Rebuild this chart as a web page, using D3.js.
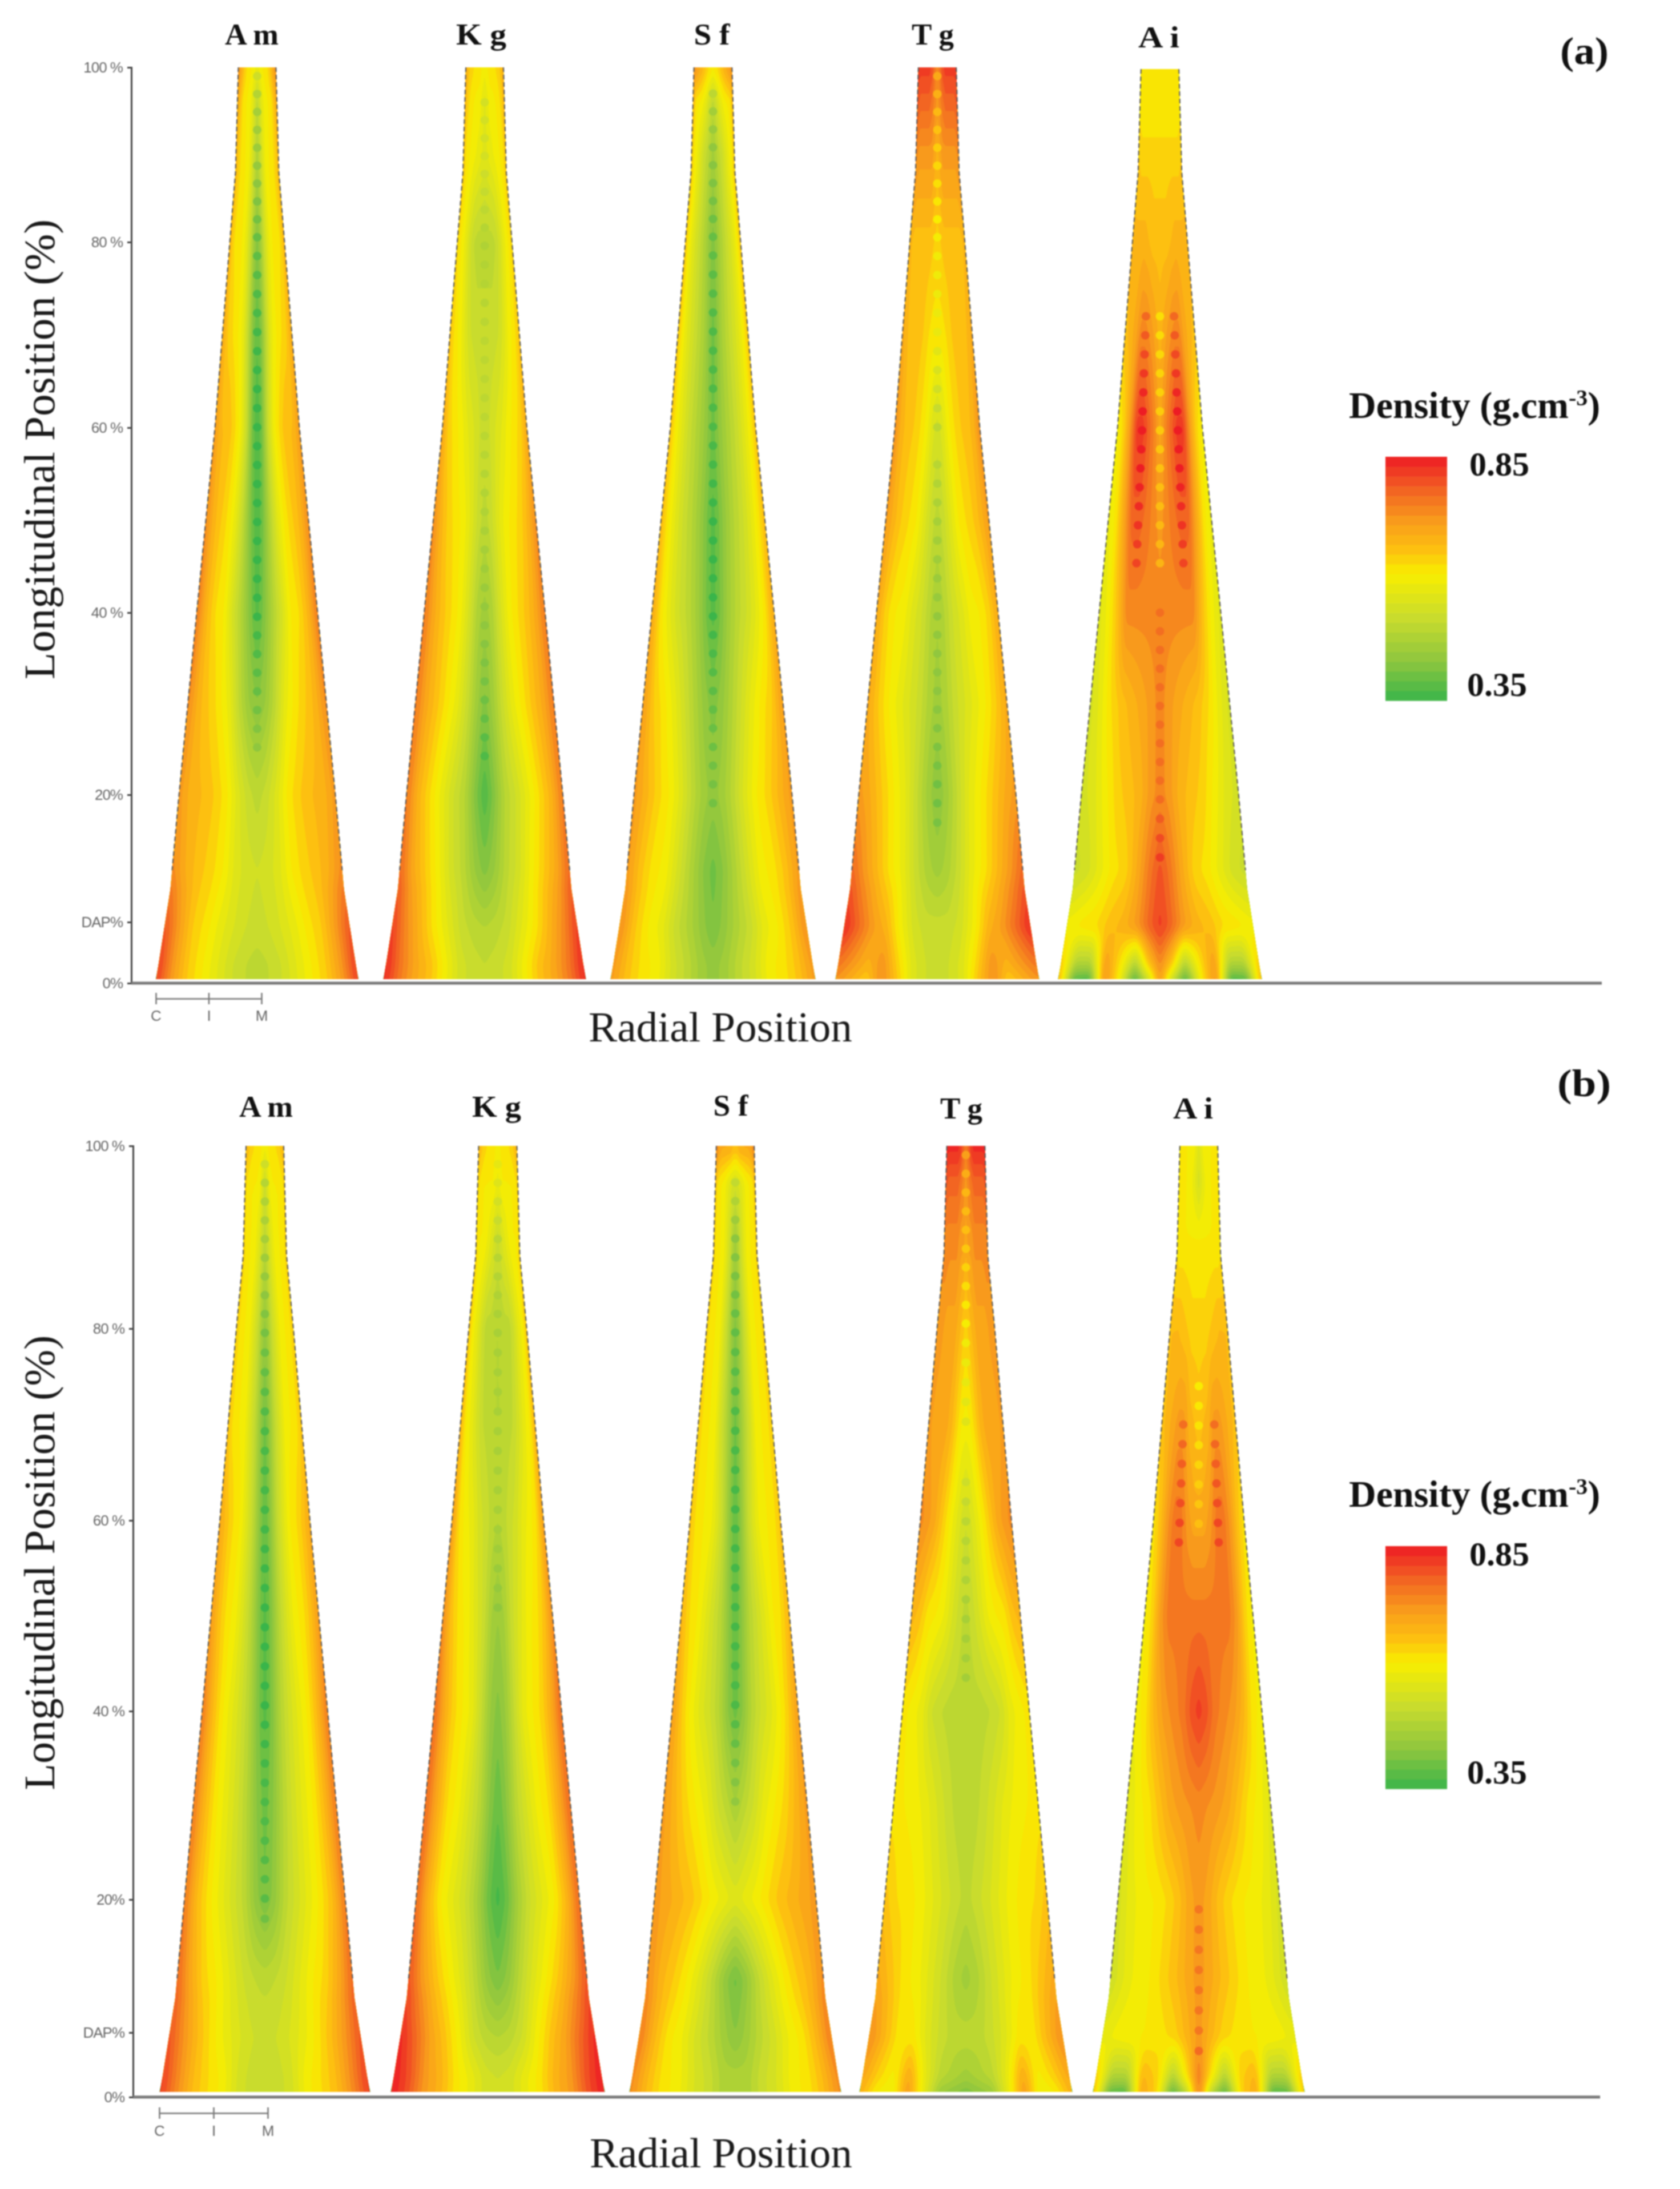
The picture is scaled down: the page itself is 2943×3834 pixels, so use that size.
<!DOCTYPE html>
<html><head><meta charset="utf-8">
<script src="https://cdn.jsdelivr.net/npm/d3@7"></script>
<style>
html,body{margin:0;padding:0;background:#fff}
svg{display:block;filter:blur(0.9px)}
</style></head><body><svg id="c" width="2943" height="3834"></svg>
<script>
// ---------- DATA ----------
const species = ["A m","K g","S f","T g","A i"];
const tickValues = [0,6.5,20,40,60,80,100];
const tickLabels = ["0%","DAP%","20%","40 %","60 %","80 %","100 %"];
const radialLabels = ["C","I","M"];
const densityRange = [0.35,0.85];
// longitudinal rows (%), radial columns (0 = pith line, 1 = bark)
const rowPct = [100,96,90,80,70,60,50,40,30,20,12,6,2,0];
const colU = [0,.12,.25,.4,.55,.7,.85,1];

const Am_a=[[.58,.60,.61,.62,.63,.66,.70,.74],[.50,.54,.58,.60,.61,.62,.66,.70],[.48,.52,.56,.60,.61,.62,.64,.68],[.42,.46,.52,.58,.61,.62,.63,.68],[.39,.42,.50,.58,.61,.63,.65,.70],[.37,.41,.52,.60,.64,.67,.67,.72],[.37,.41,.49,.57,.62,.65,.68,.74],[.38,.42,.48,.54,.61,.63,.68,.76],[.43,.45,.50,.58,.62,.65,.68,.74],[.50,.52,.56,.62,.65,.67,.68,.72],[.53,.54,.56,.61,.64,.66,.69,.74],[.52,.53,.55,.58,.62,.65,.72,.80],[.50,.51,.53,.57,.61,.65,.72,.82],[.50,.51,.53,.57,.61,.65,.72,.82]];
const Kg_a=[[.60,.61,.62,.63,.63,.64,.66,.70],[.56,.58,.60,.60,.61,.62,.64,.68],[.56,.57,.58,.59,.60,.61,.62,.66],[.50,.50,.50,.51,.54,.58,.61,.64],[.52,.52,.52,.53,.56,.60,.62,.66],[.52,.53,.55,.57,.60,.62,.64,.70],[.50,.52,.56,.60,.62,.64,.68,.74],[.46,.48,.54,.60,.63,.66,.70,.76],[.42,.46,.52,.58,.62,.66,.70,.76],[.37,.42,.49,.53,.58,.63,.68,.76],[.42,.45,.50,.54,.60,.65,.70,.78],[.49,.50,.52,.57,.62,.68,.74,.82],[.51,.52,.54,.60,.66,.70,.76,.84],[.51,.52,.54,.60,.66,.70,.76,.84]];
const Sf_a=[[.62,.63,.64,.66,.68,.70,.72,.74],[.50,.52,.55,.58,.60,.61,.62,.68],[.46,.48,.50,.52,.55,.58,.61,.65],[.42,.44,.47,.50,.53,.56,.60,.66],[.40,.43,.47,.50,.53,.56,.60,.66],[.40,.43,.46,.49,.52,.56,.60,.66],[.38,.41,.45,.49,.52,.56,.61,.67],[.38,.41,.46,.50,.53,.57,.62,.70],[.42,.44,.48,.53,.58,.62,.65,.72],[.44,.46,.50,.56,.61,.64,.68,.72],[.40,.43,.48,.54,.60,.62,.66,.72],[.41,.44,.48,.52,.58,.61,.66,.74],[.44,.46,.50,.54,.60,.62,.66,.72],[.44,.46,.50,.54,.60,.62,.66,.72]];
const Tg_a=[[.74,.76,.80,.82,.82,.82,.82,.82],[.72,.74,.76,.78,.78,.78,.78,.80],[.68,.70,.72,.72,.72,.72,.72,.74],[.64,.65,.66,.66,.66,.66,.66,.68],[.62,.62,.63,.65,.66,.66,.67,.70],[.54,.56,.60,.63,.65,.66,.68,.74],[.50,.52,.56,.61,.63,.65,.68,.72],[.47,.49,.53,.56,.60,.61,.64,.70],[.46,.48,.52,.55,.58,.61,.65,.70],[.43,.46,.51,.57,.61,.65,.69,.72],[.46,.48,.52,.58,.62,.67,.72,.78],[.52,.52,.54,.60,.68,.72,.78,.84],[.52,.53,.56,.64,.73,.68,.72,.76],[.52,.53,.56,.66,.74,.64,.68,.72]];
const Ai_a=[[.61,.61,.61,.61,.61,.61,.61,.62],[.61,.61,.61,.61,.61,.61,.61,.62],[.64,.64,.64,.64,.64,.64,.64,.65],[.66,.66,.66,.67,.68,.68,.68,.68],[.68,.70,.72,.74,.74,.70,.68,.66],[.70,.74,.78,.82,.82,.72,.64,.60],[.72,.74,.76,.78,.78,.70,.62,.58],[.74,.74,.74,.74,.74,.66,.60,.56],[.74,.72,.70,.68,.66,.63,.58,.54],[.74,.72,.68,.66,.64,.60,.56,.54],[.80,.76,.70,.64,.62,.58,.54,.52],[.82,.78,.72,.68,.66,.63,.62,.60],[.74,.65,.48,.62,.72,.48,.48,.66],[.72,.50,.34,.60,.74,.34,.36,.70]];

const Am_b=[[.60,.61,.62,.62,.63,.64,.66,.68],[.52,.56,.60,.61,.61,.61,.62,.64],[.50,.53,.56,.59,.61,.61,.62,.64],[.44,.47,.52,.56,.60,.61,.62,.65],[.40,.44,.50,.55,.60,.61,.62,.66],[.39,.43,.50,.56,.61,.63,.66,.70],[.38,.42,.49,.55,.60,.62,.66,.72],[.38,.42,.49,.54,.58,.62,.68,.76],[.40,.43,.49,.54,.58,.62,.68,.76],[.41,.44,.50,.54,.58,.62,.67,.76],[.50,.51,.53,.57,.61,.64,.70,.78],[.53,.53,.55,.58,.62,.67,.73,.80],[.52,.52,.54,.60,.63,.67,.74,.82],[.52,.52,.54,.60,.63,.67,.74,.82]];
const Kg_b=[[.61,.61,.62,.62,.63,.64,.66,.68],[.58,.60,.61,.61,.61,.61,.62,.64],[.52,.54,.56,.58,.60,.61,.61,.64],[.49,.49,.50,.50,.53,.57,.60,.66],[.49,.49,.50,.51,.54,.58,.61,.68],[.49,.50,.52,.54,.58,.60,.63,.72],[.45,.47,.52,.56,.60,.62,.66,.74],[.42,.45,.51,.58,.61,.64,.70,.78],[.39,.43,.50,.55,.60,.63,.70,.78],[.36,.40,.47,.53,.57,.61,.68,.78],[.41,.44,.50,.56,.61,.66,.72,.80],[.49,.50,.53,.60,.66,.71,.78,.84],[.53,.54,.58,.62,.68,.72,.80,.85],[.53,.54,.58,.62,.68,.72,.80,.85]];
const Sf_b=[[.68,.68,.70,.70,.70,.70,.72,.76],[.54,.55,.56,.58,.60,.61,.62,.66],[.46,.49,.53,.57,.60,.61,.62,.64],[.42,.45,.50,.55,.60,.61,.62,.64],[.40,.44,.49,.54,.60,.61,.62,.65],[.39,.43,.50,.56,.60,.61,.62,.66],[.39,.43,.49,.53,.57,.61,.63,.68],[.40,.43,.49,.53,.56,.60,.65,.72],[.47,.50,.53,.58,.61,.64,.68,.72],[.56,.58,.60,.63,.66,.68,.70,.72],[.40,.44,.50,.56,.61,.65,.68,.74],[.43,.46,.50,.54,.59,.62,.68,.76],[.48,.48,.52,.55,.60,.62,.67,.74],[.48,.48,.52,.55,.60,.62,.67,.74]];
const Tg_b=[[.76,.78,.82,.84,.84,.84,.84,.84],[.72,.74,.76,.78,.78,.78,.78,.80],[.70,.72,.72,.74,.74,.74,.74,.74],[.64,.66,.68,.70,.70,.70,.72,.72],[.60,.61,.64,.68,.70,.70,.70,.72],[.53,.55,.58,.62,.66,.70,.72,.74],[.50,.52,.55,.59,.61,.62,.66,.68],[.49,.50,.50,.51,.53,.58,.60,.62],[.50,.50,.52,.55,.58,.60,.61,.62],[.50,.52,.54,.57,.60,.62,.63,.66],[.46,.48,.52,.56,.60,.62,.66,.70],[.50,.50,.52,.56,.62,.62,.68,.74],[.46,.48,.50,.58,.70,.60,.64,.70],[.40,.42,.44,.58,.72,.58,.60,.68]];
const Ai_b=[[.56,.58,.60,.61,.61,.61,.61,.61],[.54,.56,.58,.60,.61,.61,.61,.61],[.61,.61,.61,.61,.61,.61,.61,.62],[.64,.64,.64,.65,.66,.67,.67,.67],[.66,.67,.68,.72,.72,.70,.68,.66],[.70,.70,.72,.76,.76,.72,.66,.62],[.76,.76,.76,.76,.76,.72,.64,.60],[.82,.80,.76,.74,.72,.68,.62,.60],[.74,.73,.72,.70,.66,.62,.60,.56],[.72,.70,.66,.63,.61,.60,.58,.54],[.72,.70,.67,.64,.61,.60,.57,.53],[.72,.68,.64,.62,.61,.61,.60,.58],[.76,.62,.48,.64,.68,.48,.48,.66],[.76,.46,.34,.64,.70,.34,.36,.68]];

// sample lines visible as beads: [u, from %, to %, density offset]
const beads_a=[[[0,99,24,-.03]],[[0,96,24,-.02]],[[0,97,18,-.03]],[[0,99,58,-.04],[0,56,16,-.03]],[[0,72,45,-.05],[.42,72,44,.05],[0,40,12,.03]]];
const beads_b=[[[0,98,18,-.03]],[[0,98,50,-.02]],[[0,96,30,-.03]],[[0,99,70,-.04],[0,64,42,-.03]],[[0,74,58,-.04],[.42,70,56,.05],[0,19,4,.04]]];

// stem half-width profile, relative to the % height
const shapePct=[100,88,80,60,40,20,10,0];
const shape_a=[33,38,48,74,106,137,152,178];
const shape_b=[33,38,50,79,110,141,157,185];

// ---------- LAYOUT ----------
const panels=[
 {data:[Am_a,Kg_a,Sf_a,Tg_a,Ai_a],beads:beads_a,shape:shape_a,refHalf:178,
  centers:[450.5,849,1249,1642,2032],halves:[178,178,180,179,179],topY:[118,118,118,118,121],
  tickY:[1722,1615,1392,1073,749,424,118],treeBase:1715,axisX:230,axisEnd:2806,
  lab:[[441,78],[843,78],[1247,78],[1634,78],[2030,83]],labW:[94,88,63,74,72],
  scale:[273,365,458],scaleY:1749,scaleLab:21,
  xTitleY:1824,xTitleX:[1031,1493],yTitleC:787,yTitleLen:806,
  tag:"(a)",tagX:[2733,2818],tagY:112,legTitleY:732,bar:[800,1227],legY:[1219,833]},
 {data:[Am_b,Kg_b,Sf_b,Tg_b,Ai_b],beads:beads_b,shape:shape_b,refHalf:185,
  centers:[464,872,1288,1692,2100],halves:[185,188,186,187,186],topY:[2007,2007,2007,2007,2007],
  tickY:[3673,3560,3327,2997,2663,2327,2007],treeBase:3664,axisX:233,axisEnd:2803,
  lab:[[466,1956],[870,1956],[1280,1954],[1684,1959],[2090,1959]],labW:[94,86,61,74,70],
  scale:[279,374,469],scaleY:3701,scaleLab:22,
  xTitleY:3796,xTitleX:[1033,1493],yTitleC:2737,yTitleLen:797,
  tag:"(b)",tagX:[2728,2822],tagY:1920,legTitleY:2639,bar:[2708,3133],legY:[3124,2742]}
];

const svg=d3.select("#c");
svg.append("rect").attr("width",2943).attr("height",3834).attr("fill","#fff");
const SERIF="'Liberation Serif','Times New Roman',serif", SANS="'Liberation Sans',Arial,sans-serif";

const color=d3.scaleLinear()
  .domain([.35,.43,.52,.61,.66,.72,.78,.85])
  .range(["#39b54a","#8dc63f","#c9dc2d","#f8ee00","#fdc010","#f89a1c","#f26522","#ed1c24"])
  .clamp(true);
const thresholds=d3.range(densityRange[0],densityRange[1]-1e-6,0.02);

function fieldAt(m,u,p){
  const au=Math.min(1,Math.abs(u));
  let j=d3.bisectRight(colU,au)-1; j=Math.max(0,Math.min(colU.length-2,j));
  const tu=(au-colU[j])/(colU[j+1]-colU[j]);
  let i=0; while(i<rowPct.length-2&&p<rowPct[i+1])i++;
  const tp=(rowPct[i]-p)/(rowPct[i]-rowPct[i+1]);
  const a=d3.interpolateNumber(m[i][j],m[i][j+1])(tu),b=d3.interpolateNumber(m[i+1][j],m[i+1][j+1])(tu);
  return a+(b-a)*tp;
}

const GW=201,GH=501;
panels.forEach(P=>{
  const g=svg.append("g");
  const y=d3.scaleLinear().domain(tickValues).range(P.tickY);
  const cx=d3.scaleOrdinal(species,P.centers);

  species.forEach((sp,k)=>{
    const m=P.data[k];
    const hw=d3.scaleLinear().domain(shapePct).range(P.shape.map(v=>v*P.halves[k]/P.refHalf));
    const yy=p=>Math.min(P.treeBase,Math.max(P.topY[k],y(p)));
    const c=cx(sp);
    const values=new Float64Array(GW*GH);
    for(let j=0;j<GH;j++)for(let i=0;i<GW;i++){
      const u=((i+.5)/GW)*2-1,p=100*(1-(j+.5)/GH);
      values[j*GW+i]=fieldAt(m,u,p);
    }
    d3.blur2({data:values,width:GW,height:GH},1.6,2);
    const contours=d3.contours().size([GW,GH]).thresholds(thresholds)(values);
    const path=d3.geoPath(d3.geoTransform({point(px,py){
      const u=px/GW*2-1,p=100*(1-py/GH);
      this.stream.point(c+u*hw(p),yy(p));
    }}));
    const pcts=d3.range(100,-0.001,-2).concat([88,10]).sort((a,b)=>b-a);
    const outline=[...pcts.map(p=>[c-hw(p),yy(p)]),...pcts.slice().reverse().map(p=>[c+hw(p),yy(p)])];
    const line=d3.line();
    const id="clip"+P.tag[1]+k;
    g.append("clipPath").attr("id",id).append("path").attr("d",line(outline)+"Z");
    const t=g.append("g").attr("clip-path",`url(#${id})`);
    t.append("path").attr("d",line(outline)+"Z").attr("fill",color(.35));
    t.selectAll("path.band").data(contours).join("path").attr("class","band")
      .attr("d",path).attr("fill",d=>color(d.value+.01));
    // bead rows
    P.beads[k].forEach(([u,from,to,dv])=>{
      const ps=d3.range(from,to,-2.05);
      (u?[-u,u]:[0]).forEach(us=>{
        t.selectAll(null).data(ps).join("circle")
          .attr("cx",p=>c+us*hw(p)).attr("cy",p=>yy(p)).attr("r",7.5)
          .attr("fill",p=>color(fieldAt(m,us,p)+dv));
      });
    });
    // dashed stem edge
    const edge=d3.range(100,11,-2);
    [-1,1].forEach(s=>g.append("path").attr("d",line(edge.map(p=>[c+s*hw(p),yy(p)])))
      .attr("fill","none").attr("stroke","#555").attr("stroke-width",2).attr("stroke-dasharray","8 5"));
    // species label
    g.append("text").attr("x",P.lab[k][0]).attr("y",P.lab[k][1]).attr("text-anchor","middle")
      .attr("font-family",SERIF).attr("font-weight","bold").attr("font-size",52)
      .attr("textLength",P.labW[k]).attr("lengthAdjust","spacingAndGlyphs").attr("fill","#111").text(sp);
  });

  // longitudinal axis
  const ax=g.append("g").attr("transform",`translate(${P.axisX},0)`)
    .call(d3.axisLeft(y).tickValues(tickValues).tickSize(7).tickPadding(8).tickFormat((d,i)=>tickLabels[i]));
  ax.select(".domain").attr("stroke","#444").attr("stroke-width",3);
  ax.selectAll(".tick line").attr("stroke","#444").attr("stroke-width",3);
  ax.selectAll("text").attr("font-family",SANS).attr("font-size",26).attr("fill","#666").attr("letter-spacing",-1);
  // radial axis line
  const xLine=d3.scaleLinear().domain([0,1]).range([P.axisX,P.axisEnd]);
  g.append("line").attr("x1",xLine(0)).attr("x2",xLine(1)).attr("y1",y(0)).attr("y2",y(0))
    .attr("stroke","#777").attr("stroke-width",5);
  // C I M scale
  const rs=d3.scalePoint().domain(radialLabels).range([P.scale[0],P.scale[2]]);
  const ra=g.append("g").attr("transform",`translate(0,${P.scaleY})`)
    .call(d3.axisBottom(rs).tickSize(0).tickPadding(P.scaleLab).tickSizeOuter(0));
  ra.select(".domain").attr("stroke","#777").attr("stroke-width",2.5);
  ra.selectAll(".tick").append("line").attr("y1",-10).attr("y2",10).attr("stroke","#777").attr("stroke-width",2.5);
  ra.selectAll("text").attr("font-family",SANS).attr("font-size",26).attr("fill","#666");
  // titles
  g.append("text").attr("x",P.xTitleX[0]).attr("y",P.xTitleY).attr("font-family",SERIF).attr("font-size",75)
    .attr("textLength",P.xTitleX[1]-P.xTitleX[0]).attr("lengthAdjust","spacingAndGlyphs").attr("fill","#1a1a1a").text("Radial Position");
  g.append("text").attr("transform",`translate(95,${P.yTitleC}) rotate(-90)`).attr("text-anchor","middle")
    .attr("font-family",SERIF).attr("font-size",77).attr("textLength",P.yTitleLen).attr("lengthAdjust","spacingAndGlyphs")
    .attr("fill","#1a1a1a").text("Longitudinal Position (%)");
  g.append("text").attr("x",P.tagX[0]).attr("y",P.tagY).attr("font-family",SERIF).attr("font-weight","bold").attr("font-size",68)
    .attr("textLength",P.tagX[1]-P.tagX[0]).attr("lengthAdjust","spacingAndGlyphs").attr("fill","#111").text(P.tag);
  // legend
  const lt=g.append("text").attr("x",2363).attr("y",P.legTitleY).attr("font-family",SERIF).attr("font-weight","bold").attr("font-size",66).attr("fill","#111");
  lt.append("tspan").text("Density (g.cm");
  lt.append("tspan").attr("dy",-22).attr("font-size",40).text("-3");
  lt.append("tspan").attr("dy",22).text(")");
  const lb=d3.scaleBand().domain(thresholds.slice().reverse()).range(P.bar);
  g.selectAll(null).data(thresholds).join("rect").attr("x",2427).attr("width",108)
    .attr("y",d=>lb(d)).attr("height",lb.bandwidth()+.6).attr("fill",d=>color(d+.01));
  const lv=d3.scaleOrdinal(densityRange,P.legY);
  densityRange.forEach(v=>{
    g.append("text").attr("x",v>.5?2574:2570).attr("y",lv(v)).attr("font-family",SERIF).attr("font-weight","bold")
      .attr("font-size",60).attr("fill","#111").text(d3.format(".2f")(v));
  });
});
</script></body></html>
